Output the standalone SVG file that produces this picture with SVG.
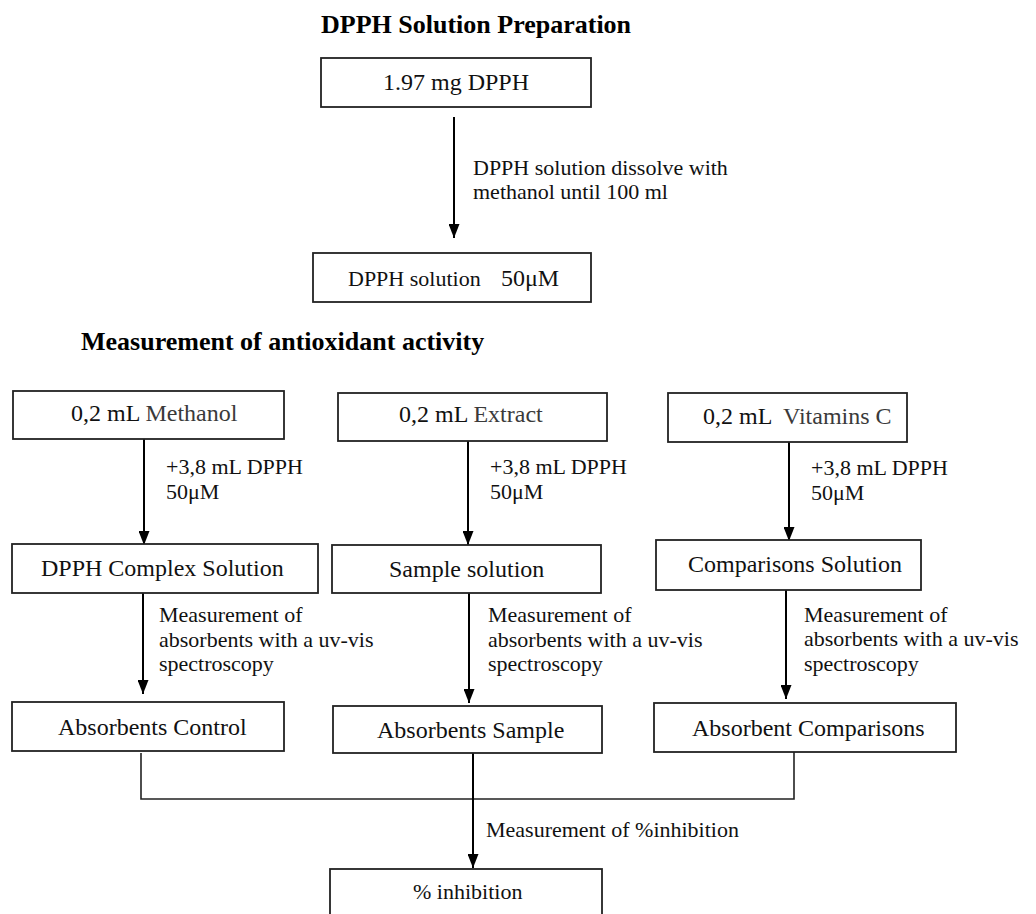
<svg xmlns="http://www.w3.org/2000/svg" width="1036" height="914" viewBox="0 0 1036 914">
<defs>
<marker id="ah" markerUnits="userSpaceOnUse" markerWidth="14" markerHeight="11" refX="14" refY="5.5" orient="auto">
<path d="M0,0 L14,5.5 L0,11 z" fill="#000"/>
</marker>
<style>
text{font-family:"Liberation Serif","Times New Roman",serif;fill:#111;}
.h{font-size:26px;font-weight:bold;fill:#000;}
.b{font-size:24px;}
.l{font-size:22px;}
.g{fill:#3a3a3a;}
rect{fill:#fff;stroke:#222;stroke-width:1.8;}
.c line,.c path{stroke:#000;stroke-width:2;fill:none;}
.c .p{stroke:#222;stroke-width:1.6;}
</style>
</defs>
<rect x="0" y="0" width="1036" height="914" style="stroke:none;fill:#fff"/>
<text class="h" x="321" y="33">DPPH Solution Preparation</text>
<text class="h" x="81" y="350">Measurement of antioxidant activity</text>

<g id="connectors" class="c">
<line x1="454" y1="117" x2="454" y2="238" marker-end="url(#ah)"/>
<line x1="144" y1="439" x2="144" y2="545" marker-end="url(#ah)"/>
<line x1="468" y1="441" x2="468" y2="545" marker-end="url(#ah)"/>
<line x1="789" y1="437" x2="789" y2="541" marker-end="url(#ah)"/>
<line x1="143" y1="593" x2="143" y2="694" marker-end="url(#ah)"/>
<line x1="469" y1="593" x2="469" y2="703" marker-end="url(#ah)"/>
<line x1="786" y1="590" x2="786" y2="699" marker-end="url(#ah)"/>
<path class="p" d="M141,753 V799 H794 V752"/>
<line x1="473" y1="753" x2="473" y2="868" marker-end="url(#ah)"/>
<text class="l" x="473" y="175">DPPH solution dissolve with</text>
<text class="l" x="473" y="199">methanol until 100 ml</text>
<text class="l" x="166" y="474">+3,8 mL DPPH</text>
<text class="l" x="166" y="499">50μM</text>
<text class="l" x="490" y="474">+3,8 mL DPPH</text>
<text class="l" x="490" y="499">50μM</text>
<text class="l" x="811" y="475">+3,8 mL DPPH</text>
<text class="l" x="811" y="500">50μM</text>
<text class="l" x="159" y="622">Measurement of</text>
<text class="l" x="159" y="647">absorbents with a uv-vis</text>
<text class="l" x="159" y="671">spectroscopy</text>
<text class="l" x="488" y="622">Measurement of</text>
<text class="l" x="488" y="647">absorbents with a uv-vis</text>
<text class="l" x="488" y="671">spectroscopy</text>
<text class="l" x="804" y="622">Measurement of</text>
<text class="l" x="804" y="646">absorbents with a uv-vis</text>
<text class="l" x="804" y="671">spectroscopy</text>
<text class="l" x="486" y="837">Measurement of %inhibition</text>
</g>

<g id="n-dpph"><rect x="321" y="58" width="270" height="49"/><text class="b" x="456" y="90" text-anchor="middle">1.97 mg DPPH</text></g>
<g id="n-solution"><rect x="313" y="253" width="278" height="49"/><text class="l" x="348" y="286">DPPH solution</text><text class="b" x="501" y="286">50μM</text></g>

<g id="n-methanol"><rect x="13" y="391" width="271" height="48"/><text class="b" x="71" y="421">0,2 mL <tspan class="g">Methanol</tspan></text></g>
<g id="n-extract"><rect x="338" y="393" width="269" height="48"/><text class="b" x="399" y="422">0,2 mL <tspan class="g">Extract</tspan></text></g>
<g id="n-vitc"><rect x="668" y="393" width="239" height="49"/><text class="b" x="703" y="424">0,2 mL <tspan class="g" dx="6">Vitamins C</tspan></text></g>

<g id="n-complex"><rect x="12" y="544" width="306" height="49"/><text class="b" x="41" y="576">DPPH Complex Solution</text></g>
<g id="n-sample"><rect x="332" y="545" width="269" height="48"/><text class="b" x="389" y="577">Sample solution</text></g>
<g id="n-comp"><rect x="656" y="540" width="265" height="50"/><text class="b" x="688" y="572">Comparisons Solution</text></g>

<g id="n-abscontrol"><rect x="12" y="702" width="272" height="49"/><text class="b" x="58" y="735">Absorbents Control</text></g>
<g id="n-abssample"><rect x="333" y="706" width="269" height="47"/><text class="b" x="377" y="738">Absorbents Sample</text></g>
<g id="n-abscomp"><rect x="654" y="703" width="302" height="49"/><text class="b" x="692" y="736">Absorbent Comparisons</text></g>

<g id="n-inhibition"><rect x="330" y="869" width="272" height="60"/><text class="l" x="413" y="899">% inhibition</text></g>
</svg>
